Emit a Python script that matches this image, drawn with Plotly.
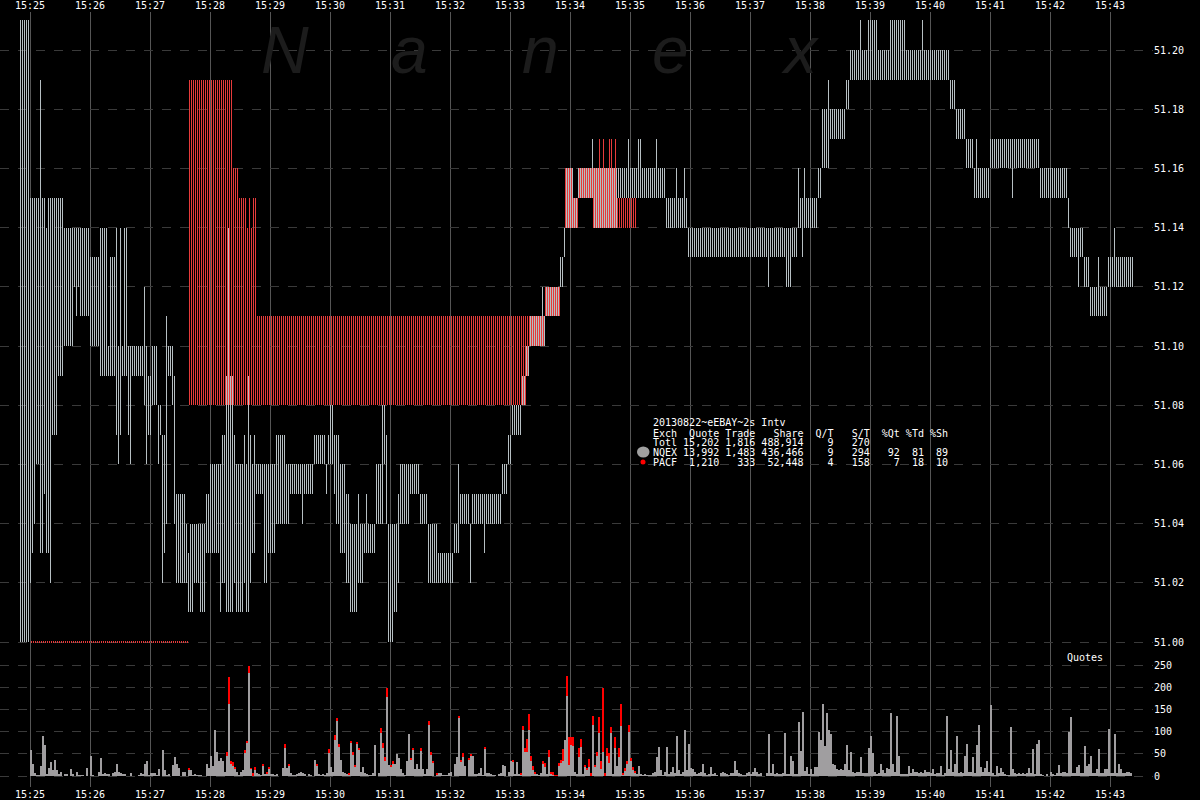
import plotly.graph_objects as go
from datetime import datetime, timedelta

# ---------------- DATA ----------------
# time t = seconds after 15:25:00 ; prices in cents above 51.00
NQEX_RUNS = [  # (t_start, t_end, low_cents, high_cents) NQEX quote range per 2s
    (-10, 0, 0, 21), (0, 2, 2, 15), (2, 4, 3, 15), (4, 6, 4, 15), (6, 10, 6, 15),
    (10, 12, 3, 19), (12, 14, 3, 15), (14, 16, 5, 15), (16, 18, 3, 14), (18, 20, 3, 15),
    (20, 22, 2, 15), (22, 28, 7, 15), (28, 34, 9, 15), (34, 44, 10, 14), (44, 46, 12, 14),
    (46, 48, 11, 14), (48, 50, 12, 14), (50, 60, 11, 14), (60, 70, 10, 13), (70, 78, 9, 14),
    (78, 80, 9, 10), (80, 86, 9, 13), (86, 88, 7, 14), (88, 90, 6, 10), (90, 92, 7, 14),
    (92, 94, 9, 10), (94, 98, 9, 14), (98, 100, 7, 10), (100, 102, 6, 10), (102, 114, 9, 10),
    (114, 116, 8, 12), (116, 118, 6, 10), (118, 122, 7, 9), (122, 128, 8, 10), (128, 130, 6, 8),
    (130, 132, 7, 8), (132, 134, 2, 7), (134, 136, 3, 7), (136, 138, 4, 11), (138, 142, 9, 10),
    (142, 144, 8, 10), (144, 146, 4, 9), (146, 156, 2, 5), (156, 158, 2, 4), (158, 160, 1, 3),
    (160, 164, 1, 4), (164, 170, 2, 4), (170, 176, 1, 4), (176, 180, 3, 5), (180, 190, 3, 6),
    (190, 192, 1, 6), (192, 196, 2, 7), (196, 204, 1, 9), (198, 200, 1, 14), (204, 206, 2, 7),
    (206, 214, 1, 6), (214, 216, 2, 7), (216, 218, 1, 6), (218, 220, 1, 9), (220, 222, 2, 7),
    (222, 224, 3, 6), (224, 226, 3, 7), (226, 234, 5, 6), (234, 238, 2, 6), (238, 246, 3, 6),
    (246, 256, 4, 7), (256, 260, 4, 6), (260, 272, 5, 6), (272, 274, 4, 6), (274, 284, 5, 6),
    (284, 296, 6, 7), (296, 298, 5, 6), (298, 300, 6, 7), (300, 304, 6, 8), (304, 306, 5, 7),
    (306, 310, 4, 7), (310, 316, 3, 6), (316, 320, 2, 5), (320, 328, 1, 4), (328, 330, 2, 5),
    (330, 334, 2, 4), (334, 346, 3, 4), (336, 338, 3, 5), (346, 352, 4, 6), (352, 354, 4, 8),
    (354, 356, 6, 8), (356, 358, 4, 7), (358, 364, 0, 4), (364, 368, 1, 4), (368, 370, 2, 5),
    (370, 380, 4, 6), (380, 390, 5, 6), (390, 398, 4, 5), (398, 408, 2, 4), (408, 424, 2, 3),
    (424, 428, 3, 4), (428, 430, 3, 6), (430, 440, 4, 5), (440, 442, 2, 4), (442, 472, 4, 5),
    (454, 456, 3, 5), (472, 478, 5, 6), (478, 482, 6, 7), (482, 492, 7, 8), (492, 496, 8, 9),
    (496, 500, 9, 10), (500, 516, 10, 11), (512, 514, 10, 12), (516, 530, 11, 12),
    (530, 534, 12, 13), (534, 536, 13, 14), (536, 544, 14, 16), (544, 548, 14, 15),
    (548, 562, 15, 16), (562, 564, 15, 17), (564, 588, 14, 16), (588, 608, 15, 16),
    (598, 600, 15, 17), (608, 636, 15, 16), (608, 612, 15, 17), (626, 628, 15, 17),
    (636, 658, 14, 15), (646, 648, 14, 16), (654, 656, 14, 16), (658, 768, 13, 14),
    (738, 740, 12, 14), (756, 762, 12, 14), (768, 770, 14, 16), (770, 788, 14, 15),
    (772, 774, 13, 15), (774, 776, 14, 16), (788, 792, 15, 16), (792, 800, 16, 18),
    (798, 800, 16, 19), (800, 816, 17, 18), (816, 820, 18, 19), (820, 920, 19, 20),
    (830, 832, 19, 21), (838, 848, 19, 21), (860, 876, 19, 21), (892, 894, 19, 21),
    (920, 926, 18, 19), (926, 936, 17, 18), (936, 944, 16, 17), (944, 960, 15, 16),
    (946, 948, 15, 17), (960, 1010, 16, 17), (982, 984, 15, 17), (1010, 1038, 15, 16),
    (1038, 1040, 14, 15), (1040, 1054, 13, 14), (1048, 1050, 12, 14), (1054, 1060, 12, 13),
    (1060, 1078, 11, 12), (1068, 1070, 11, 13), (1078, 1104, 12, 13), (1084, 1086, 12, 14),
]

PACF_RUNS = [  # PACF quote range per 2s
    (1, 159, 0, 0), (159, 203, 8, 19), (203, 209, 8, 16), (209, 217, 8, 15),
    (217, 219, 8, 14), (219, 221, 8, 15), (221, 223, 8, 14), (223, 227, 8, 15),
    (227, 491, 8, 11), (491, 497, 8, 11), (497, 499, 9, 11), (499, 515, 10, 11),
    (515, 531, 11, 12), (535, 543, 14, 16), (543, 549, 14, 15), (549, 563, 15, 16),
    (563, 587, 14, 16), (569, 571, 14, 17), (573, 575, 14, 17), (579, 583, 14, 17),
    (585, 587, 14, 17), (587, 607, 14, 15),
]

# quotes per 2-second interval, NQEX, one list per minute starting 15:25:00
VOL_NQEX_BY_MIN = [
    [58, 28, 6, 1, 1, 22, 89, 69, 3, 17, 31, 13, 35, 13, 5, 10, 0, 4, 4, 0, 15, 3, 0, 9, 1, 1, 1, 0, 17, 0],
    [46, 1, 0, 0, 10, 40, 4, 6, 3, 3, 0, 6, 10, 28, 10, 6, 3, 3, 0, 0, 6, 0, 0, 0, 1, 6, 4, 28, 33, 1],
    [6, 6, 6, 1, 15, 0, 58, 13, 1, 4, 0, 24, 42, 28, 17, 0, 8, 8, 0, 15, 13, 2, 4, 2, 2, 2, 0, 0, 28, 17],
    [46, 22, 103, 53, 33, 40, 33, 8, 46, 163, 26, 22, 17, 10, 2, 8, 13, 51, 76, 231, 17, 0, 13, 6, 4, 2, 24, 4, 6, 17],
    [4, 4, 2, 4, 0, 0, 17, 62, 17, 24, 6, 2, 2, 4, 6, 8, 6, 4, 0, 4, 2, 0, 37, 24, 4, 2, 4, 2, 6, 51],
    [20, 10, 80, 123, 65, 37, 10, 6, 4, 3, 76, 49, 22, 73, 60, 10, 20, 6, 4, 2, 2, 6, 69, 0, 6, 96, 62, 33, 177, 24],
    [22, 26, 26, 49, 40, 15, 6, 2, 33, 94, 37, 60, 15, 26, 15, 58, 15, 4, 15, 116, 49, 31, 0, 4, 6, 6, 2, 2, 2, 6],
    [10, 0, 26, 42, 132, 33, 42, 22, 0, 37, 46, 46, 4, 4, 6, 17, 2, 62, 6, 6, 4, 2, 1, 0, 4, 6, 24, 22, 0, 10],
    [33, 33, 4, 31, 4, 4, 103, 55, 55, 103, 33, 13, 6, 4, 2, 6, 26, 20, 4, 42, 6, 4, 0, 0, 22, 31, 33, 82, 181, 24],
    [69, 67, 10, 4, 42, 65, 4, 22, 15, 20, 0, 114, 22, 44, 96, 15, 55, 0, 44, 29, 96, 4, 62, 22, 42, 112, 4, 13, 26, 98],
    [33, 13, 8, 4, 22, 4, 2, 4, 2, 2, 2, 6, 8, 42, 65, 13, 2, 10, 65, 4, 10, 20, 6, 89, 13, 4, 10, 103, 13, 73],
    [17, 15, 10, 4, 6, 8, 26, 6, 2, 4, 20, 4, 6, 2, 0, 6, 10, 6, 4, 2, 6, 6, 33, 13, 6, 4, 2, 2, 6, 8],
    [4, 10, 17, 8, 4, 6, 0, 0, 6, 94, 6, 26, 4, 6, 4, 4, 6, 96, 4, 4, 44, 33, 4, 4, 121, 56, 144, 11, 20, 4],
    [15, 5, 20, 20, 100, 80, 163, 67, 141, 103, 94, 28, 24, 15, 13, 15, 13, 26, 69, 13, 55, 8, 6, 8, 10, 42, 6, 6, 6, 62],
    [91, 51, 10, 4, 6, 26, 13, 6, 17, 15, 141, 26, 8, 136, 46, 4, 4, 4, 4, 22, 6, 15, 10, 10, 6, 10, 6, 13, 10, 8],
    [6, 15, 4, 6, 6, 22, 2, 6, 136, 15, 58, 10, 26, 91, 6, 10, 6, 44, 73, 10, 8, 42, 6, 69, 116, 20, 10, 17, 33, 8],
    [161, 6, 2, 22, 6, 17, 10, 4, 2, 2, 110, 15, 6, 4, 6, 4, 6, 4, 6, 17, 6, 60, 4, 71, 82, 4, 2, 0, 4, 0],
    [10, 4, 2, 6, 24, 6, 8, 10, 6, 98, 134, 6, 6, 20, 24, 6, 6, 67, 22, 28, 44, 6, 6, 15, 60, 6, 6, 15, 15, 105],
    [6, 6, 94, 6, 26, 15, 6, 6, 10, 10, 6],
]

# PACF quotes per 2-second interval (interval index -> count), stacked on top
PACF_VOL_SLOT = [79, 98, 99, 100, 101, 102, 107, 108, 109, 110, 111, 112, 116, 118, 119, 127, 129,
                 143, 149, 152, 153, 154, 159, 160, 161, 162, 163, 164, 175, 176, 177, 178, 180, 181,
                 190, 191, 195, 199, 200, 201, 203, 214, 215, 216, 219, 220, 227, 241, 245, 246, 247,
                 248, 249, 250, 251, 252, 256, 257, 259, 260, 261, 262, 263, 264, 265, 266, 268, 269,
                 270, 271, 274, 275, 277, 278, 279, 280, 281, 282, 283, 284, 285, 286, 287, 288, 289,
                 290, 292, 294, 295, 296, 297, 298, 299, 300, 301, 302]
PACF_VOL_VAL = [2, 7, 61, 7, 9, 2, 7, 1, 16, 1, 6, 7, 4, 2, 2, 9, 4,
                2, 9, 13, 7, 7, 3, 2, 4, 2, 2, 2, 11, 13, 9, 22, 2, 7,
                4, 4, 4, 9, 4, 2, 2, 2, 4, 9, 4, 2, 4, 2, 2, 9, 7,
                29, 36, 11, 9, 4, 7, 9, 16, 2, 4, 2, 2, 7, 4, 27, 45, 63,
                18, 20, 20, 18, 2, 4, 18, 6, 22, 2, 11, 38, 18, 144, 6, 18, 22,
                14, 25, 20, 50, 2, 4, 7, 18, 7, 7, 4]

PRICE_TICKS = [51.00, 51.02, 51.04, 51.06, 51.08, 51.10, 51.12, 51.14, 51.16, 51.18, 51.20]
VOL_TICKS = [0, 50, 100, 150, 200, 250]

INFO_LINES = [
    "20130822~eEBAY~2s Intv",
    "Exch  Quote Trade   Share  Q/T   S/T  %Qt %Td %Sh",
    "Totl 15,202 1,816 488,914    9   270",
    "NQEX 13,992 1,483 436,466    9   294   92  81  89",
    "PACF  1,210   333  52,448    4   158    7  18  10",
]
WATERMARK = ["N", "a", "n", "e", "x"]

# ---------------- helpers ----------------
T0 = datetime(2013, 8, 22, 15, 25, 0)


def ts(sec):
    return (T0 + timedelta(seconds=sec)).strftime("%Y-%m-%d %H:%M:%S.%f")[:-3]


def expand(runs, parity):
    d = {}
    for s, e, lo, hi in runs:
        t = s
        if (t - parity) % 2:
            t += 1
        while t < e:
            d[t] = (lo, hi)
            t += 2
    return d


W, H = 1200, 800
ML, MR, MT, MB = 0, 47, 12, 13
PW, PH = W - ML - MR, H - MT - MB
PX_PER_CENT = 29.6
PRICE_ZERO_PY = 642
VOL_ZERO_PY = 776
PX_PER_Q = 0.444


def xp(px):
    return (px - ML) / PW


def yp(py):
    return 1 - (py - MT) / PH


GREY_LINE = "#b6bfc3"
RED_LINE = "#e63b3b"
VOL_GREY = "#a09ea0"
VOL_RED = "#ff0000"

fig = go.Figure()


def price_trace(runs, parity, color):
    d = expand(runs, parity)
    ts_sorted = sorted(d)
    xs, ys, bs = [], [], []
    for t in ts_sorted:
        lo, hi = d[t]
        h = (hi - lo) / 100.0
        b = 51.0 + lo / 100.0
        if h <= 0:
            h = 0.0003
            b -= 0.00015
        xs.append(ts(t + 0.5))
        ys.append(h)
        bs.append(b)
    return go.Bar(x=xs, y=ys, base=bs, width=960, marker=dict(color=color, line=dict(width=0)),
                  xaxis="x", yaxis="y", hoverinfo="skip", showlegend=False)


fig.add_trace(price_trace(NQEX_RUNS, 0, GREY_LINE))
fig.add_trace(price_trace(PACF_RUNS, 1, RED_LINE))

vol_nq = [v for m in VOL_NQEX_BY_MIN for v in m]
vol_pa = [0] * len(vol_nq)
for s, v in zip(PACF_VOL_SLOT, PACF_VOL_VAL):
    if s < len(vol_pa):
        vol_pa[s] = v
vx = [ts(2 * i + 1) for i in range(len(vol_nq))]
fig.add_trace(go.Bar(x=vx, y=vol_nq, width=2000, marker=dict(color=VOL_GREY, line=dict(width=0)),
                     xaxis="x", yaxis="y2", hoverinfo="skip", showlegend=False))
fig.add_trace(go.Bar(x=vx, y=vol_pa, base=vol_nq, width=2000, marker=dict(color=VOL_RED, line=dict(width=0)),
                     xaxis="x", yaxis="y2", hoverinfo="skip", showlegend=False))
# anchor trace for the top time axis
fig.add_trace(go.Scatter(x=[ts(0), ts(600)], y=[51.1, 51.1], xaxis="x2", yaxis="y", mode="markers",
                         marker=dict(opacity=0), hoverinfo="skip", showlegend=False))

xrange = [ts(-30), ts(-30 + PW)]
price_range = [51.0 - (ML + MT + PH - PRICE_ZERO_PY) / PX_PER_CENT / 100.0,
               51.0 + (PRICE_ZERO_PY - MT) / PX_PER_CENT / 100.0]
vol_range = [-(MT + PH - VOL_ZERO_PY) / PX_PER_Q, (VOL_ZERO_PY - MT) / PX_PER_Q]

tickfont = dict(family="DejaVu Sans Mono", size=10, color="#ffffff")
xcommon = dict(type="date", range=xrange, tickformat="%H:%M", dtick=60000, tick0=ts(0),
               ticks="", showline=False, zeroline=False, tickfont=tickfont, fixedrange=True)

fig.update_layout(
    width=W, height=H,
    margin=dict(l=ML, r=MR, t=MT, b=MB),
    paper_bgcolor="#000000", plot_bgcolor="#000000",
    barmode="overlay", bargap=0,
    font=dict(family="DejaVu Sans Mono", size=10, color="#ffffff"),
    xaxis=dict(**xcommon, side="bottom", showgrid=True, gridcolor="#555555", gridwidth=1),
    xaxis2=dict(**xcommon, side="top", overlaying="x", anchor="y", showgrid=False),
    yaxis=dict(range=price_range, side="right", tickvals=PRICE_TICKS,
               ticktext=["%.2f" % v for v in PRICE_TICKS], showgrid=True, gridcolor="#3a3a3a",
               griddash="dash", gridwidth=1, zeroline=False, showline=False, ticks="",
               tickfont=tickfont, fixedrange=True),
    yaxis2=dict(range=vol_range, side="right", overlaying="y", tickvals=VOL_TICKS,
                showgrid=True, gridcolor="#3a3a3a", griddash="dash", gridwidth=1, zeroline=False,
                showline=False, ticks="", tickfont=tickfont, fixedrange=True),
    showlegend=False,
)

# watermark
for ch, cx in zip(WATERMARK, [285, 410, 540, 670, 800]):
    fig.add_annotation(x=xp(cx), y=yp(50), xref="paper", yref="paper", text=ch, showarrow=False,
                       xanchor="center", yanchor="middle",
                       font=dict(family="Liberation Sans", size=66, color="#1c1c1c", style="italic"))

# info block
for line, py in zip(INFO_LINES, [423, 433, 442, 452, 462]):
    fig.add_annotation(x=xp(651), y=yp(py), xref="paper", yref="paper",
                       text=line.replace(" ", "&nbsp;"), showarrow=False, xanchor="left",
                       yanchor="middle", font=dict(family="DejaVu Sans Mono", size=10, color="#ffffff"))

fig.add_shape(type="circle", xref="paper", yref="paper", x0=xp(637), x1=xp(649.5),
              y0=yp(457.5), y1=yp(446.5), fillcolor="#a0a0a0", line=dict(width=0))
fig.add_shape(type="circle", xref="paper", yref="paper", x0=xp(640.5), x1=xp(645.5),
              y0=yp(464.5), y1=yp(459.5), fillcolor="#ff0000", line=dict(width=0))

fig.add_annotation(x=xp(1085), y=yp(657), xref="paper", yref="paper", text="Quotes",
                   showarrow=False, xanchor="center", yanchor="middle",
                   font=dict(family="DejaVu Sans Mono", size=10, color="#ffffff"))

# remove the page's default 8px body margin so the figure sits at the top-left corner
fig.write_html("out.html", config={"displayModeBar": False},
               post_script="document.body.style.margin='0';document.body.style.overflow='hidden';")
